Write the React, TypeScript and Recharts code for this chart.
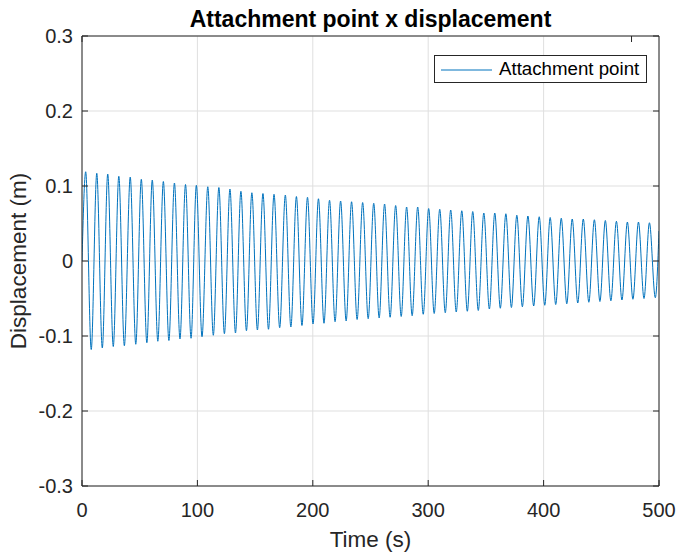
import { LineChart, Line, XAxis, YAxis, CartesianGrid, Legend, Label } from "recharts";

// Extremes of the oscillation, in seconds and metres
const peakTimes = [
  3.2, 12.8, 22.3, 31.9, 41.8, 51.4, 60.9, 70.5, 80.1, 89.7, 99.1, 109.0, 118.6, 128.2,
  137.7, 147.2, 156.8, 166.4, 176.2, 185.8, 195.4, 204.9, 214.5, 224.1, 233.6, 243.2, 252.8, 262.2,
  271.8, 281.3, 290.9, 300.4, 310.0, 319.5, 329.1, 338.6, 348.2, 357.7, 367.3, 376.8, 386.4,
  396.2, 405.7, 415.3, 424.8, 434.4, 444.0, 453.5, 463.1, 472.6, 482.2, 491.7,
];
const peakValues = [
  0.119, 0.117, 0.116, 0.113, 0.112, 0.109, 0.108, 0.106, 0.104, 0.102, 0.101, 0.099, 0.098, 0.096,
  0.093, 0.091, 0.09, 0.089, 0.088, 0.086, 0.085, 0.083, 0.081, 0.08, 0.079, 0.078, 0.077, 0.076,
  0.074, 0.072, 0.072, 0.07, 0.069, 0.068, 0.067, 0.066, 0.064, 0.064, 0.063, 0.061, 0.06,
  0.059, 0.058, 0.057, 0.056, 0.056, 0.055, 0.054, 0.053, 0.052, 0.052, 0.051,
];
const troughTimes = [
  8.0, 17.6, 27.1, 36.7, 46.6, 56.2, 65.7, 75.3, 84.9, 94.5, 104.0, 113.8, 123.4, 133.0,
  142.5, 152.0, 161.6, 171.3, 181.0, 190.6, 200.2, 209.7, 219.3, 228.9, 238.4, 248.0, 257.5, 267.0,
  276.6, 286.1, 295.7, 305.2, 314.8, 324.3, 333.9, 343.4, 353.0, 362.5, 372.1, 381.6, 391.4,
  401.0, 410.5, 420.1, 429.6, 439.2, 448.8, 458.3, 467.9, 477.4, 487.0, 496.8,
];
const troughValues = [
  -0.118, -0.116, -0.114, -0.113, -0.111, -0.109, -0.107, -0.106, -0.104, -0.103, -0.101, -0.099, -0.097, -0.096,
  -0.093, -0.092, -0.091, -0.089, -0.088, -0.086, -0.084, -0.083, -0.081, -0.08, -0.078, -0.077, -0.076, -0.075,
  -0.074, -0.073, -0.071, -0.07, -0.069, -0.068, -0.067, -0.066, -0.064, -0.063, -0.062, -0.061, -0.06,
  -0.059, -0.058, -0.057, -0.056, -0.055, -0.054, -0.053, -0.052, -0.051, -0.05, -0.049,
];
const startPoint = { t: 0, y: 0 };
const endPoint = { t: 500, y: 0.04 };

const timeTicks = [0, 100, 200, 300, 400, 500];
const displacementTicks = [-0.3, -0.2, -0.1, 0, 0.1, 0.2, 0.3];

const data = [
  startPoint,
  ...peakTimes.flatMap((t, i) => [
    { t, y: peakValues[i] },
    { t: troughTimes[i], y: troughValues[i] },
  ]),
  endPoint,
];

const AXIS = "#262626";
const BLUE = "#0072BD";
const FONT = "'Liberation Sans', Arial, Helvetica, sans-serif";

const noTick = () => <g />;

function LegendBox() {
  return (
    <div
      style={{
        width: 211,
        height: 26,
        border: `1px solid ${AXIS}`,
        background: "#fff",
        display: "flex",
        alignItems: "center",
        fontFamily: FONT,
        fontSize: 18.7,
        color: "#000",
      }}
    >
      <svg width={64} height={26} style={{ display: "block" }}>
        <line x1={6} x2={57} y1={14} y2={14} stroke={BLUE} strokeWidth={1} />
      </svg>
      <span style={{ whiteSpace: "nowrap" }}>Attachment point</span>
    </div>
  );
}

export default function App() {
  return (
    <div style={{ width: 678, height: 552, background: "#fff", fontFamily: FONT }}>
      <style>{"body{margin:0}"}</style>
      <LineChart width={678} height={552} data={data} margin={{ top: 0, right: 0, bottom: 0, left: 0 }}>
        <CartesianGrid stroke="#dfdfdf" />
        <XAxis
          dataKey="t"
          type="number"
          domain={[0, 500]}
          allowDataOverflow
          ticks={timeTicks}
          interval={0}
          height={66}
          tickSize={-6}
          tickMargin={23}
          stroke={AXIS}
          tick={{ fontSize: 20, fill: AXIS }}
        >
          <Label
            content={() => (
              <text x={370.5} y={547} textAnchor="middle" fontSize={22.5} fill={AXIS}>
                Time (s)
              </text>
            )}
          />
        </XAxis>
        <XAxis
          xAxisId="top"
          orientation="top"
          type="number"
          domain={[0, 500]}
          allowDataOverflow
          ticks={timeTicks}
          interval={0}
          height={36}
          tickSize={-6}
          stroke={AXIS}
          tick={noTick}
        >
          <Label
            content={() => (
              <text x={370.5} y={27} textAnchor="middle" fontSize={23} fontWeight="bold" fill="#000">
                Attachment point x displacement
              </text>
            )}
          />
        </XAxis>
        <YAxis
          type="number"
          domain={[-0.3, 0.3]}
          allowDataOverflow
          ticks={displacementTicks}
          interval={0}
          width={82}
          tickSize={-6}
          tickMargin={15}
          stroke={AXIS}
          tick={{ fontSize: 20, fill: AXIS }}
          tickFormatter={(v: number) => String(v)}
        >
          <Label
            content={() => (
              <text
                x={26}
                y={261}
                transform="rotate(-90 26 261)"
                textAnchor="middle"
                fontSize={22.5}
                fill={AXIS}
              >
                Displacement (m)
              </text>
            )}
          />
        </YAxis>
        <YAxis
          yAxisId="right"
          orientation="right"
          type="number"
          domain={[-0.3, 0.3]}
          allowDataOverflow
          ticks={displacementTicks}
          interval={0}
          width={19}
          tickSize={-6}
          stroke={AXIS}
          tick={noTick}
        />
        <Legend
          layout="horizontal"
          verticalAlign="middle"
          align="center"
          wrapperStyle={{ top: 55, left: 434, width: 213, height: 28 }}
          content={() => <LegendBox />}
        />
        <Line
          name="Attachment point"
          dataKey="y"
          type="monotone"
          stroke={BLUE}
          strokeWidth={1}
          dot={false}
          activeDot={false}
          isAnimationActive={false}
        />
      </LineChart>
    </div>
  );
}
